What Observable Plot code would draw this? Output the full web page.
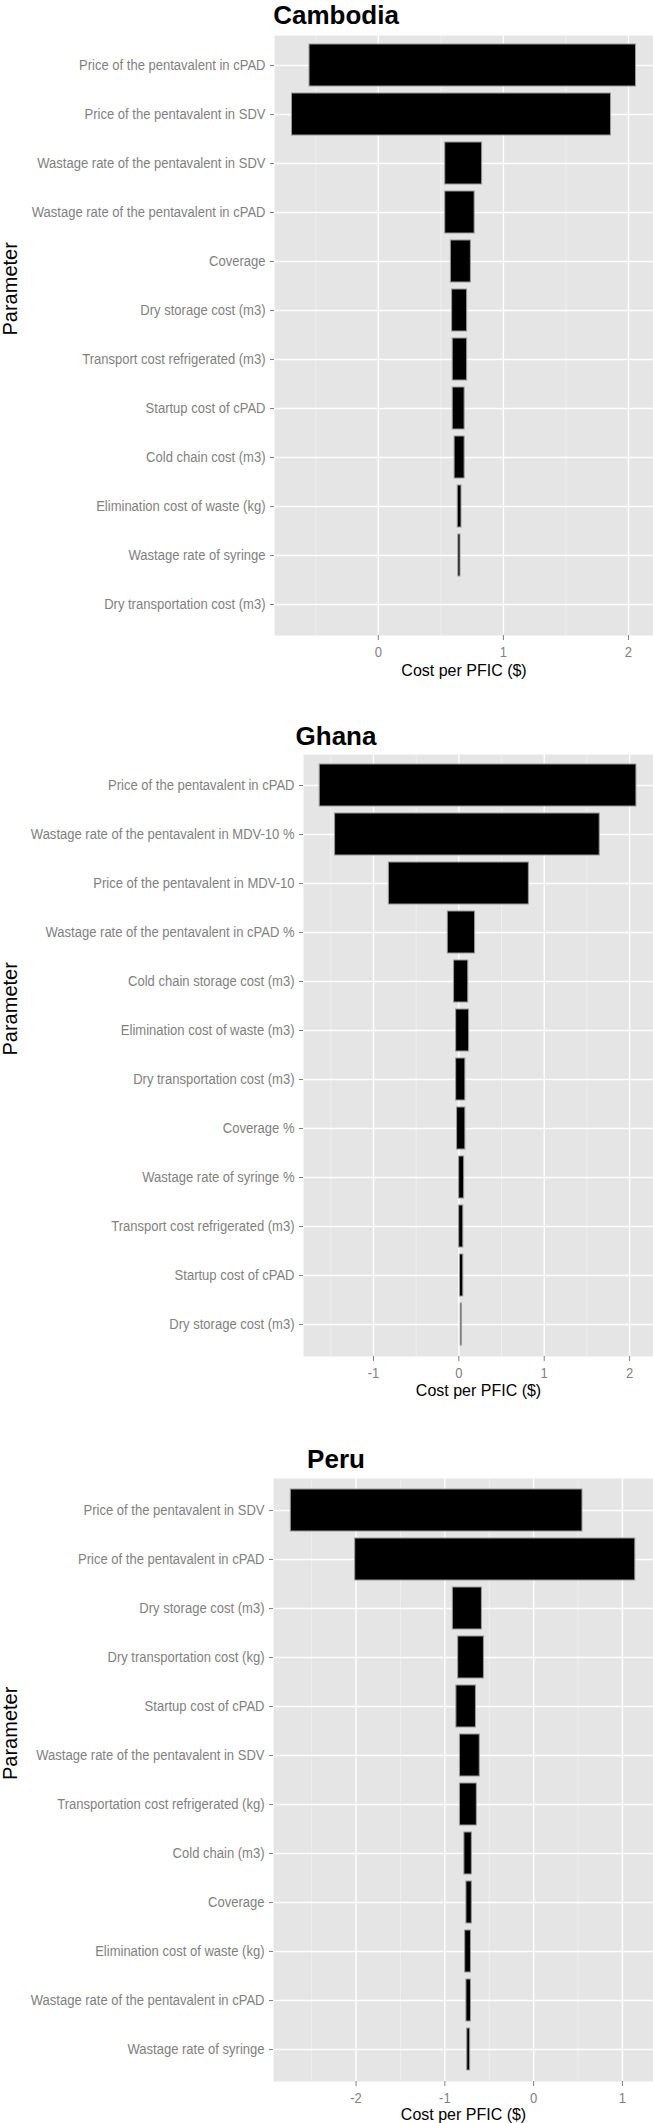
<!DOCTYPE html>
<html>
<head>
<meta charset="utf-8">
<script src="https://cdn.jsdelivr.net/npm/d3@7"></script>
<script src="https://cdn.jsdelivr.net/npm/@observablehq/plot@0.6"></script>
<style>
  html, body { margin: 0; padding: 0; background: white; }
  #page { position: relative; width: 653px; height: 2123px; overflow: hidden; background: white; }
  .chart { position: absolute; left: 0; width: 653px; }
  .title { position: absolute; left: 336px; transform: translateX(-50%); font-family: "Liberation Sans", Arial, sans-serif; font-weight: bold; font-size: 26px; line-height: 26px; color: black; white-space: nowrap; }
</style>
</head>
<body>
<div id="page"></div>
<script>
// ---------------- DATA ----------------
const countries = ["Cambodia", "Ghana", "Peru"];

const cambodiaParams = [
  "Price of the pentavalent in cPAD",
  "Price of the pentavalent in SDV",
  "Wastage rate of the pentavalent in SDV",
  "Wastage rate of the pentavalent in cPAD",
  "Coverage",
  "Dry storage cost (m3)",
  "Transport cost refrigerated (m3)",
  "Startup cost of cPAD",
  "Cold chain cost (m3)",
  "Elimination cost of waste (kg)",
  "Wastage rate of syringe",
  "Dry transportation cost (m3)"
];
const cambodiaLow  = [-0.55, -0.69, 0.535, 0.535, 0.58, 0.59, 0.595, 0.595, 0.61, 0.635, 0.64, 0.65];
const cambodiaHigh = [2.06, 1.86, 0.83, 0.77, 0.74, 0.71, 0.71, 0.69, 0.69, 0.665, 0.657, 0.65];
const cambodiaMajorTicks = [0, 1, 2];
const cambodiaMinorTicks = [-0.5, 0.5, 1.5];

const ghanaParams = [
  "Price of the pentavalent in cPAD",
  "Wastage rate of the pentavalent in MDV-10 %",
  "Price of the pentavalent in MDV-10",
  "Wastage rate of the pentavalent in cPAD %",
  "Cold chain storage cost (m3)",
  "Elimination cost of waste (m3)",
  "Dry transportation cost (m3)",
  "Coverage %",
  "Wastage rate of syringe %",
  "Transport cost refrigerated (m3)",
  "Startup cost of cPAD",
  "Dry storage cost (m3)"
];
const ghanaLow  = [-1.63, -1.45, -0.82, -0.13, -0.056, -0.032, -0.032, -0.021, 0.003, 0.003, 0.013, 0.022];
const ghanaHigh = [2.08, 1.65, 0.82, 0.19, 0.11, 0.12, 0.076, 0.076, 0.062, 0.052, 0.052, 0.037];
const ghanaMajorTicks = [-1, 0, 1, 2];
const ghanaMinorTicks = [-1.5, -0.5, 0.5, 1.5];

const peruParams = [
  "Price of the pentavalent in SDV",
  "Price of the pentavalent in cPAD",
  "Dry storage cost (m3)",
  "Dry transportation cost (kg)",
  "Startup cost of cPAD",
  "Wastage rate of the pentavalent in SDV",
  "Transportation cost refrigerated (kg)",
  "Cold chain (m3)",
  "Coverage",
  "Elimination cost of waste (kg)",
  "Wastage rate of the pentavalent in cPAD",
  "Wastage rate of syringe"
];
const peruLow  = [-2.735, -2.01, -0.91, -0.85, -0.87, -0.83, -0.83, -0.78, -0.757, -0.771, -0.757, -0.748];
const peruHigh = [0.55, 1.145, -0.583, -0.56, -0.65, -0.607, -0.64, -0.696, -0.696, -0.706, -0.706, -0.715];
const peruMajorTicks = [-2, -1, 0, 1];
const peruMinorTicks = [-2.5, -1.5, -0.5, 0.5];

const xAxisTitle = "Cost per PFIC ($)";
const yAxisTitle = "Parameter";

// ---------------- LAYOUT ----------------
function hasFont(name) {
  const c = document.createElement("canvas").getContext("2d");
  const s = "Price of the pentavalent in cPAD 0123";
  c.font = "16px monospace";
  const w0 = c.measureText(s).width;
  c.font = `16px "${name}", monospace`;
  const w1 = c.measureText(s).width;
  return Math.abs(w0 - w1) > 0.5;
}
const narrow = hasFont("Liberation Sans Narrow");
const tickFont = narrow
  ? {fontFamily: '"Liberation Sans Narrow", "Liberation Sans", sans-serif', fontSize: 15.5}
  : {fontFamily: '"Liberation Sans", Arial, sans-serif', fontSize: 15.5};
const condense = narrow ? 1 : 0.84; // emulate the condensed tick-label face

const panels = [
  {name: countries[0], params: cambodiaParams, low: cambodiaLow, high: cambodiaHigh, major: cambodiaMajorTicks, minor: cambodiaMinorTicks,
   domain: [-0.83, 2.2], top: 25, marginLeft: 274, panelH: 600, marginBottom: 50, titleTop: 2, xTitleDy: 35.5},
  {name: countries[1], params: ghanaParams, low: ghanaLow, high: ghanaHigh, major: ghanaMajorTicks, minor: ghanaMinorTicks,
   domain: [-1.82, 2.28], top: 744, marginLeft: 303, panelH: 602, marginBottom: 50, titleTop: 723, xTitleDy: 34.5},
  {name: countries[2], params: peruParams, low: peruLow, high: peruHigh, major: peruMajorTicks, minor: peruMinorTicks,
   domain: [-2.93, 1.35], top: 1468, marginLeft: 273, panelH: 603, marginBottom: 42, titleTop: 1446, xTitleDy: 33.5}
];

const page = document.getElementById("page");
const tickColor = "#7f7f7f";

for (const p of panels) {
  const data = p.params.map((param, i) => ({param, lo: p.low[i], hi: p.high[i]}));
  const marginTop = 10;
  const chart = Plot.plot({
    width: 653,
    height: marginTop + p.panelH + p.marginBottom,
    marginTop,
    marginBottom: p.marginBottom,
    marginLeft: p.marginLeft,
    marginRight: 0,
    style: {fontFamily: '"Liberation Sans", Arial, sans-serif', background: "white", overflow: "visible"},
    x: {domain: p.domain},
    y: {type: "band", domain: p.params, paddingInner: 0.14, paddingOuter: 0.17},
    marks: [
      Plot.frame({fill: "#E5E5E5", stroke: null}),
      Plot.gridX(p.minor, {stroke: "#F2F2F2", strokeOpacity: 1, strokeWidth: 0.8}),
      Plot.gridX(p.major, {stroke: "white", strokeOpacity: 1, strokeWidth: 1.4}),
      Plot.gridY({stroke: "white", strokeOpacity: 1, strokeWidth: 1.4}),
      Plot.barX(data, {x1: "lo", x2: "hi", y: "param", fill: "black", stroke: "#9a9a9a", strokeWidth: 1}),
      Plot.axisX(p.major, {tickSize: 5, tickPadding: 5, color: tickColor, label: null, tickFormat: d => String(d), ...tickFont}),
      Plot.axisY({tickSize: 4, tickPadding: 5, color: tickColor, label: null, ...tickFont}),
      Plot.text([xAxisTitle], {text: d => d, frameAnchor: "bottom", dy: p.xTitleDy, lineAnchor: "middle", fontSize: 16, fill: "black"}),
      Plot.text([yAxisTitle], {text: d => d, frameAnchor: "left", dx: -(p.marginLeft - 10), rotate: -90, lineAnchor: "middle", fontSize: 20, fill: "black"})
    ]
  });
  const wrap = document.createElement("div");
  wrap.className = "chart";
  wrap.style.top = p.top + "px";
  wrap.appendChild(chart);
  page.appendChild(wrap);
  if (condense !== 1) {
    chart.querySelectorAll('g[aria-label="y-axis tick label"] text, g[aria-label="x-axis tick label"] text').forEach(t => {
      const w = t.getComputedTextLength();
      if (w > 0) {
        t.setAttribute("textLength", (w * condense).toFixed(2));
        t.setAttribute("lengthAdjust", "spacingAndGlyphs");
      }
    });
  }
}
for (const p of panels) {
  const t = document.createElement("div");
  t.className = "title";
  t.style.top = p.titleTop + "px";
  t.textContent = p.name;
  page.appendChild(t);
}
</script>
</body>
</html>
